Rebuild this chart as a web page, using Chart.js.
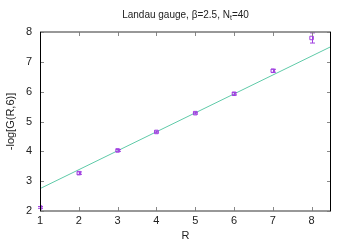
<!DOCTYPE html>
<html>
<head>
<meta charset="utf-8">
<script src="https://cdn.jsdelivr.net/npm/chart.js@4"></script>
<style>
  html, body { margin: 0; padding: 0; background: #fff; }
  #wrap { width: 350px; height: 245px; }
</style>
</head>
<body>
<div id="wrap"><canvas id="c" width="350" height="245"></canvas></div>
<script>
// measured points
var rVals = [1, 2, 3, 4, 5, 6, 7, 8];
var logG = [2.12, 3.27, 4.03, 4.65, 5.28, 5.93, 6.70, 7.80];
var logGErr = [0.03, 0.04, 0.03, 0.03, 0.03, 0.04, 0.05, 0.17];
// fit line endpoints
var fitR = [1, 8.5];
var fitVals = [2.75, 7.51];
var xTicks = [1, 2, 3, 4, 5, 6, 7, 8];
var yTicks = [2, 3, 4, 5, 6, 7, 8];

var purple = '#a040e0';
var FONT = 'Liberation Sans, Arial, sans-serif';

// title centred over the plot area, with a real subscript t
var titlePlugin = {
  id: 'plotTitle',
  afterDraw: function(chart) {
    var ctx = chart.ctx, a = chart.chartArea;
    var main = 'Landau gauge, \u03b2=2.5, N', sub = 't', tail = '=40';
    ctx.save();
    ctx.fillStyle = '#222';
    ctx.textBaseline = 'alphabetic';
    ctx.font = '10px ' + FONT;
    var w1 = ctx.measureText(main).width, w3 = ctx.measureText(tail).width;
    ctx.font = '7px ' + FONT;
    var w2 = ctx.measureText(sub).width;
    var x = (a.left + a.right) / 2 - (w1 + w2 + w3) / 2, y = 18;
    ctx.font = '10px ' + FONT;
    ctx.fillText(main, x, y);
    ctx.font = '7px ' + FONT;
    ctx.fillText(sub, x + w1, y + 2);
    ctx.font = '10px ' + FONT;
    ctx.fillText(tail, x + w1 + w2, y);
    ctx.restore();
  }
};

// gnuplot-ish frame, inward ticks and error bars
var framePlugin = {
  id: 'frame',
  afterDatasetsDraw: function(chart) {
    var ctx = chart.ctx, a = chart.chartArea;
    var xs = chart.scales.x, ys = chart.scales.y;
    ctx.save();
    // error bars
    ctx.strokeStyle = purple;
    ctx.lineWidth = 1;
    for (var i = 0; i < rVals.length; i++) {
      var px = Math.round(xs.getPixelForValue(rVals[i])) + 0.5;
      var top = ys.getPixelForValue(logG[i] + logGErr[i]);
      var bot = ys.getPixelForValue(logG[i] - logGErr[i]);
      ctx.beginPath();
      ctx.moveTo(px, top); ctx.lineTo(px, bot);
      ctx.moveTo(px - 2.5, top); ctx.lineTo(px + 2.5, top);
      ctx.moveTo(px - 2.5, bot); ctx.lineTo(px + 2.5, bot);
      ctx.stroke();
    }
    // ticks
    ctx.strokeStyle = '#888';
    ctx.beginPath();
    xTicks.forEach(function(v) {
      var p = Math.round(xs.getPixelForValue(v)) + 0.5;
      ctx.moveTo(p, a.bottom); ctx.lineTo(p, a.bottom - 4);
      ctx.moveTo(p, a.top); ctx.lineTo(p, a.top + 4);
    });
    yTicks.forEach(function(v) {
      var p = Math.round(ys.getPixelForValue(v)) + 0.5;
      ctx.moveTo(a.left, p); ctx.lineTo(a.left + 4, p);
      ctx.moveTo(a.right, p); ctx.lineTo(a.right - 4, p);
    });
    ctx.stroke();
    // border
    ctx.lineWidth = 1.5;
    ctx.strokeStyle = '#777';
    ctx.beginPath();
    ctx.moveTo(a.left, a.top); ctx.lineTo(a.right, a.top);
    ctx.moveTo(a.left, a.bottom); ctx.lineTo(a.right, a.bottom);
    ctx.stroke();
    ctx.strokeStyle = '#000';
    ctx.lineWidth = 1;
    ctx.beginPath();
    ctx.moveTo(Math.round(a.left) + 0.5, a.top); ctx.lineTo(Math.round(a.left) + 0.5, a.bottom);
    ctx.moveTo(Math.round(a.right) - 0.5, a.top); ctx.lineTo(Math.round(a.right) - 0.5, a.bottom);
    ctx.stroke();
    ctx.restore();
  }
};

new Chart(document.getElementById('c'), {
  type: 'scatter',
  data: {
    datasets: [{
      type: 'line',
      data: fitR.map(function(r, i) { return { x: r, y: fitVals[i] }; }),
      borderColor: '#5fcaa8',
      borderWidth: 1,
      pointRadius: 0,
      fill: false,
      order: 2
    }, {
      data: rVals.map(function(r, i) { return { x: r, y: logG[i] }; }),
      pointStyle: 'rect',
      pointRadius: 2.5,
      borderColor: purple,
      borderWidth: 1,
      backgroundColor: 'rgba(0,0,0,0)',
      order: 1
    }]
  },
  options: {
    responsive: false,
    animation: false,
    events: [],
    layout: { padding: { left: 0, right: 19, top: 32, bottom: 0 } },
    plugins: {
      legend: { display: false },
      tooltip: { enabled: false },
      title: { display: false }
    },
    scales: {
      x: {
        type: 'linear',
        min: 1, max: 8.5,
        afterBuildTicks: function(s) { s.ticks = xTicks.map(function(v) { return { value: v }; }); },
        afterFit: function(s) { s.height = 34; },
        grid: { display: false, drawTicks: false, tickLength: 0 },
        border: { display: false },
        ticks: { color: '#222', padding: 3, font: { family: FONT, size: 11 } },
        title: { display: true, text: 'R', color: '#222', padding: { top: 1, bottom: 2 }, font: { family: FONT, size: 11 } }
      },
      y: {
        min: 2, max: 8,
        afterBuildTicks: function(s) { s.ticks = yTicks.map(function(v) { return { value: v }; }); },
        afterFit: function(s) { s.width = 40; },
        grid: { display: false, drawTicks: false, tickLength: 0 },
        border: { display: false },
        ticks: { color: '#222', padding: 8, font: { family: FONT, size: 11 } },
        title: { display: true, text: '-log[G(R,6)]', color: '#222', padding: { top: 4, bottom: 0 }, font: { family: FONT, size: 11 } }
      }
    }
  },
  plugins: [framePlugin, titlePlugin]
});
</script>
</body>
</html>
